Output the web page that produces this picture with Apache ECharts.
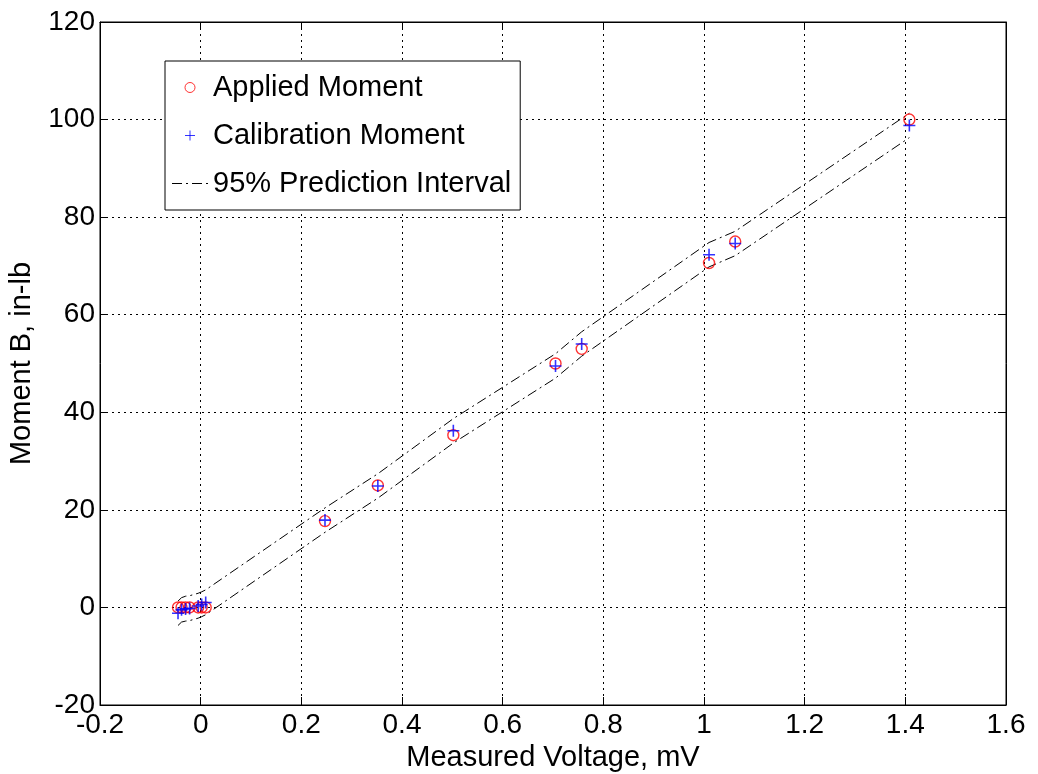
<!DOCTYPE html>
<html>
<head>
<meta charset="utf-8">
<script src="https://cdn.jsdelivr.net/npm/echarts@6/dist/echarts.min.js"></script>
<style>
  html, body { margin: 0; padding: 0; background: #fff; }
  #chart { width: 1038px; height: 774px; }
</style>
</head>
<body>
<div id="chart"></div>
<script>
// measured voltage (mV) for each load point
const voltage = [-0.045, -0.038, -0.030, -0.022, -0.005, 0.002, 0.010, 0.247, 0.352, 0.502, 0.705, 0.757, 1.010, 1.062, 1.408];
// applied moment (in-lb)
const applied = [0, 0, 0, 0, 0, 0, 0, 17.7, 25.0, 35.3, 50.0, 53.0, 70.6, 75.0, 100.0];
// calibration moment (in-lb)
const calibration = [-1.2, -0.5, -0.3, -0.2, 0.3, 0.6, 1.0, 17.9, 24.9, 36.2, 49.5, 54.0, 72.3, 74.6, 98.8];
// 95% prediction interval bounds
const piUpper = [1.3, 2.0, 2.3, 2.4, 2.9, 3.2, 3.6, 20.4, 27.4, 38.7, 52.0, 56.5, 74.8, 77.1, 101.3];
const piLower = [-3.7, -3.0, -2.8, -2.7, -2.2, -1.9, -1.5, 15.4, 22.4, 33.7, 47.0, 51.5, 69.8, 72.1, 96.3];

const font = 'Liberation Sans, Arial, sans-serif';
const plusPath = 'path://M0,5L10,5M5,0L5,10';
const dashDot = 'path://M0,4L10,4L10,5L0,5ZM14,4L16,4L16,5L14,5ZM20,4L30,4L30,5L20,5ZM34,4L36,4L36,5L34,5Z';

const chart = echarts.init(document.getElementById('chart'));

const pairs = arr => voltage.map((v, i) => [v, arr[i]]);

const gridLine = { show: true, lineStyle: { color: '#000', type: [2, 4], width: 1 } };
const axisLine = { onZero: false, lineStyle: { color: '#000' } };
const tick = { inside: true, length: 8, lineStyle: { color: '#000' } };

chart.setOption({
  animation: false,
  textStyle: { fontFamily: font },
  grid: {
    left: 100, top: 22, width: 906, height: 683,
    outerBoundsMode: 'none', containLabel: false,
    show: true, borderColor: '#000', borderWidth: 1
  },
  legend: {
    orient: 'vertical',
    left: 165,
    top: 61,
    padding: [12, 9, 12, 7],
    itemGap: 19,
    itemWidth: 36,
    itemHeight: 10,
    backgroundColor: '#fff',
    borderColor: '#000',
    borderWidth: 1,
    textStyle: { fontFamily: font, fontSize: 29, color: '#000' },
    data: [
      { name: 'Applied Moment', icon: 'circle', itemStyle: { color: 'transparent', borderColor: '#ff0000', borderWidth: 1 } },
      { name: 'Calibration Moment', icon: plusPath, itemStyle: { color: 'transparent', borderColor: '#0000ff', borderWidth: 1 } },
      { name: '95% Prediction Interval', icon: dashDot, itemStyle: { color: '#000' } }
    ]
  },
  xAxis: [{
    type: 'value', min: -0.2, max: 1.6, interval: 0.2,
    name: 'Measured Voltage, mV', nameLocation: 'middle', nameGap: 25,
    nameTextStyle: { fontSize: 29, color: '#000', fontFamily: font, verticalAlign: 'top' },
    axisLine: axisLine, axisTick: tick,
    axisLabel: { fontSize: 28, color: '#000', margin: 6, formatter: v => String(+v.toFixed(1)) },
    splitLine: gridLine
  }, {
    type: 'value', position: 'top', min: -0.2, max: 1.6, interval: 0.2,
    axisLine: axisLine, axisTick: tick,
    axisLabel: { show: false }, splitLine: { show: false }
  }],
  yAxis: [{
    type: 'value', min: -20, max: 120, interval: 20,
    name: 'Moment B, in-lb', nameLocation: 'middle', nameGap: 64,
    nameTextStyle: { fontSize: 29, color: '#000', fontFamily: font },
    axisLine: axisLine, axisTick: tick,
    axisLabel: { fontSize: 28, color: '#000', margin: 5 },
    splitLine: gridLine
  }, {
    type: 'value', position: 'right', min: -20, max: 120, interval: 20,
    axisLine: axisLine, axisTick: tick,
    axisLabel: { show: false }, splitLine: { show: false }
  }],
  series: [
    {
      name: '95% Prediction Interval', type: 'line', data: pairs(piUpper),
      symbol: 'none', lineStyle: { color: '#000', width: 1, type: [10, 4, 2, 4] }, z: 2
    },
    {
      name: '95% Prediction Interval', type: 'line', data: pairs(piLower),
      symbol: 'none', lineStyle: { color: '#000', width: 1, type: [10, 4, 2, 4] }, z: 2
    },
    {
      name: 'Applied Moment', type: 'scatter', data: pairs(applied),
      symbol: 'circle', symbolSize: 11,
      itemStyle: { color: 'transparent', borderColor: '#ff0000', borderWidth: 1.4 }, z: 3
    },
    {
      name: 'Calibration Moment', type: 'scatter', data: pairs(calibration),
      symbol: plusPath, symbolSize: 12,
      itemStyle: { color: 'transparent', borderColor: '#0000ff', borderWidth: 1.6 }, z: 4
    }
  ]
});
</script>
</body>
</html>
